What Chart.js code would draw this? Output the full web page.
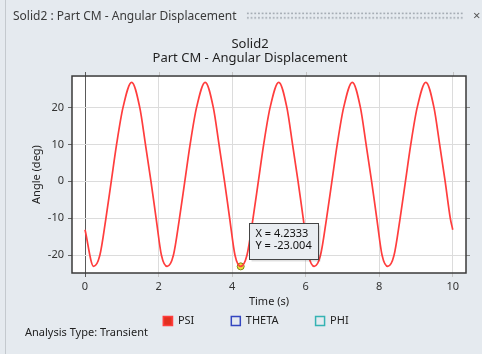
<!DOCTYPE html>
<html>
<head>
<meta charset="utf-8">
<script src="https://cdn.jsdelivr.net/npm/chart.js@4.4.1/dist/chart.umd.min.js"></script>
<style>
  html, body { margin: 0; padding: 0; }
  body { width: 482px; height: 354px; background: #e5eaef; position: relative; overflow: hidden; font-family: "Noto Sans", sans-serif; }
  #edge { position: absolute; left: 5px; top: 0; width: 1px; height: 354px; background: #c4c9ce; }
  #wrap { position: absolute; left: 0; top: 0; width: 482px; height: 354px; }
  #header { position: absolute; left: 13px; top: 7px; font-size: 12px; color: #3a3a3a; white-space: nowrap; }
  #grip { position: absolute; left: 246px; top: 10.5px; width: 217px; height: 9.2px;
          background-image: radial-gradient(circle, #98a0a8 0.8px, transparent 1.1px);
          background-size: 3.7px 4.6px; }
  #close { position: absolute; left: 473px; top: 6px; font-size: 13px; color: #555; }
  #note { position: absolute; left: 25px; top: 324px; font-size: 11px; color: #222; white-space: nowrap; }
</style>
</head>
<body>
<div id="edge"></div>
<div id="wrap"><canvas id="angleChart"></canvas></div>
<div id="header">Solid2 : Part CM - Angular Displacement</div>
<div id="grip"></div>
<div id="close">×</div>
<div id="note">Analysis Type: Transient</div>

<script>
// ---------- data ----------
const titleLines = ["Solid2", "Part CM - Angular Displacement"];
const seriesNames = ["PSI", "THETA", "PHI"];

// time (s) of each sample of the PSI curve
const times = [
  0, 0.2333, 0.4033, 0.5683, 0.7133, 0.8583, 1.0333, 1.2683, 1.4883, 1.6433, 1.7933, 1.9333, 2.0783,
  2.2333, 2.4033, 2.5683, 2.7133, 2.8583, 3.0333, 3.2683, 3.4883, 3.6433, 3.7933, 3.9333, 4.0783,
  4.2333, 4.4033, 4.5683, 4.7133, 4.8583, 5.0333, 5.2683, 5.4883, 5.6433, 5.7933, 5.9333, 6.0783,
  6.2333, 6.4033, 6.5683, 6.7133, 6.8583, 7.0333, 7.2683, 7.4883, 7.6433, 7.7933, 7.9333, 8.0783,
  8.2333, 8.4033, 8.5683, 8.7133, 8.8583, 9.0333, 9.2683, 9.4883, 9.6433, 9.7933, 9.9333, 10.0
];
// PSI angle (deg)
const psi = [
  -13.1, -23.0, -20, -10, 0, 10, 20, 26.8, 20, 10, 0, -10, -20,
  -23.0, -20, -10, 0, 10, 20, 26.8, 20, 10, 0, -10, -20,
  -23.004, -20, -10, 0, 10, 20, 26.8, 20, 10, 0, -10, -20,
  -23.0, -20, -10, 0, 10, 20, 26.8, 20, 10, 0, -10, -20,
  -23.0, -20, -10, 0, 10, 20, 26.8, 20, 10, 0, -10, -13.1
];
const theta = [];
const phi = [];

// picked point shown in the data tip
const markerX = [4.2333];
const markerY = [-23.004];

const xTicks = [0, 2, 4, 6, 8, 10];
const yTicks = [-20, -10, 0, 10, 20];

// ---------- drawing ----------
Chart.defaults.font.family = "'Noto Sans', sans-serif";
Chart.defaults.color = "#333";

const toPoints = (xs, ys) => xs.map((x, i) => ({ x: x, y: ys[i] }));

// white plot area, frame, outer ticks and the data tip
const framePlugin = {
  id: "frame",
  beforeDraw(chart) {
    const { ctx, chartArea: a } = chart;
    ctx.save();
    ctx.fillStyle = "#ffffff";
    ctx.fillRect(a.left, a.top, a.right - a.left, a.bottom - a.top);
    ctx.restore();
  },
  afterLayout(chart) {
    // legend sits under the axis title, a bit left of the plot centre
    const lg = chart.legend;
    const a = chart.chartArea;
    const dx = 256 - (lg.left + lg.right) / 2;
    lg.left += dx;
    lg.right += dx;
    lg.top = a.bottom + 5.5;
    lg.height = 60;
    lg.bottom = lg.top + lg.height;
  },
  afterDraw(chart) {
    const { ctx, chartArea: a } = chart;
    const xs = chart.scales.x;
    const ys = chart.scales.y;
    ctx.save();

    // ticks outside the top and right edges
    ctx.lineWidth = 1;
    xTicks.forEach((v) => {
      const px = Math.round(xs.getPixelForValue(v)) + 0.5;
      ctx.strokeStyle = v === 0 ? "#5a5a5a" : "#c4c4c4";
      ctx.beginPath();
      ctx.moveTo(px, a.top - 4);
      ctx.lineTo(px, a.top);
      ctx.stroke();
    });
    yTicks.forEach((v) => {
      const py = Math.round(ys.getPixelForValue(v)) + 0.5;
      ctx.strokeStyle = "#8a8a8a";
      ctx.beginPath();
      ctx.moveTo(a.right, py);
      ctx.lineTo(a.right + 4, py);
      ctx.stroke();
    });

    // frame
    ctx.strokeStyle = "#3a3a3a";
    ctx.lineWidth = 1.5;
    ctx.strokeRect(a.left, a.top, a.right - a.left, a.bottom - a.top);

    // data tip
    const px = xs.getPixelForValue(markerX[0]);
    const py = ys.getPixelForValue(markerY[0]);
    const bx = Math.round(px + 8.5) + 0.5;
    const by = Math.round(py - 43) + 0.5;
    ctx.fillStyle = "rgba(0,0,0,0.12)";
    ctx.fillRect(bx + 2, by + 2, 69, 36);
    ctx.fillStyle = "#e9edf1";
    ctx.fillRect(bx, by, 69, 36);
    ctx.strokeStyle = "#444";
    ctx.lineWidth = 1;
    ctx.strokeRect(bx, by, 69, 36);
    ctx.fillStyle = "#111";
    ctx.font = "11px 'Noto Sans', sans-serif";
    ctx.textBaseline = "middle";
    ctx.textAlign = "left";
    ctx.fillText("X = " + markerX[0], bx + 6, by + 10.5);
    ctx.fillText("Y = " + markerY[0], bx + 6, by + 22.5);
    ctx.restore();
  }
};

const ctx = document.getElementById("angleChart").getContext("2d");
new Chart(ctx, {
  type: "line",
  data: {
    datasets: [
      {
        label: seriesNames[0],
        data: toPoints(times, psi),
        borderColor: "#ff3d3d",
        backgroundColor: "#e2301f",
        borderWidth: 1.7,
        pointRadius: 0,
        cubicInterpolationMode: "monotone",
        fill: false
      },
      {
        label: seriesNames[1],
        data: theta,
        borderColor: "#3446c0",
        backgroundColor: "rgba(255,255,255,0)",
        borderWidth: 1.5,
        pointRadius: 0
      },
      {
        label: seriesNames[2],
        data: phi,
        borderColor: "#35b3b3",
        backgroundColor: "rgba(255,255,255,0)",
        borderWidth: 1.5,
        pointRadius: 0
      },
      {
        label: "pick",
        data: toPoints(markerX, markerY),
        showLine: false,
        pointRadius: 3.5,
        pointBackgroundColor: "#e9e23a",
        pointBorderColor: "#85811c",
        pointBorderWidth: 1
      }
    ]
  },
  options: {
    responsive: true,
    maintainAspectRatio: false,
    animation: false,
    layout: { padding: { top: 30, left: 34, right: 16, bottom: 42.4 } },
    plugins: {
      title: {
        display: true,
        text: titleLines,
        color: "#1f1f1f",
        font: { size: 13, weight: "normal", lineHeight: 1.12 },
        padding: { top: 6.7, bottom: 10.2 }
      },
      legend: {
        position: "bottom",
        maxHeight: 1,
        labels: {
          boxWidth: 9,
          boxHeight: 9,
          padding: 37,
          color: "#222",
          font: { size: 11 },
          filter: (item) => item.datasetIndex < 3
        }
      },
      tooltip: { enabled: false }
    },
    scales: {
      x: {
        type: "linear",
        min: -0.354,
        max: 10.36,
        afterBuildTicks: (axis) => { axis.ticks = xTicks.map((v) => ({ value: v })); },
        afterFit: (axis) => { axis.height = 37.6; },
        border: { display: false },
        grid: {
          color: (c) => (c.tick && c.tick.value === 0 ? "#5a5a5a" : "#dcdcdc"),
          tickColor: (c) => (c.tick && c.tick.value === 0 ? "#5a5a5a" : "#c4c4c4"),
          tickLength: 4
        },
        ticks: { padding: 3, color: "#333", font: { size: 11 } },
        title: { display: true, text: "Time (s)", color: "#222", font: { size: 11 }, padding: { top: 2, bottom: 2 } }
      },
      y: {
        min: -24.8,
        max: 28.5,
        afterBuildTicks: (axis) => { axis.ticks = yTicks.map((v) => ({ value: v })); },
        afterFit: (axis) => { axis.width = 38; },
        border: { display: false },
        grid: { color: "#dcdcdc", tickColor: "#666", tickLength: 4 },
        ticks: { padding: 4, color: "#333", font: { size: 11 } },
        title: { display: true, text: "Angle (deg)", color: "#222", font: { size: 11 }, padding: { top: -4, bottom: 0 } }
      }
    }
  },
  plugins: [framePlugin]
});
</script>
</body>
</html>
